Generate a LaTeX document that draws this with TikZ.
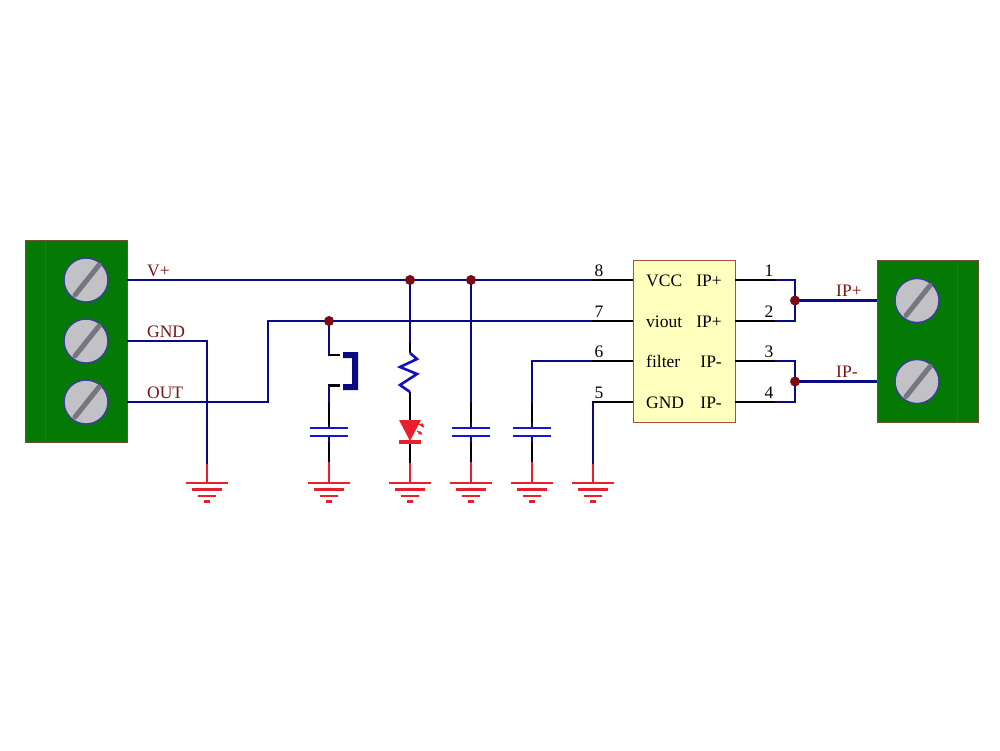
\documentclass[tikz,border=0pt]{standalone}
\usepackage{fontspec}
\setmainfont{Liberation Serif}
\definecolor{wirec}{HTML}{0A0A85}
\definecolor{capc}{HTML}{1414D2}
\definecolor{gndc}{HTML}{E8202E}
\definecolor{labc}{HTML}{7A1414}
\definecolor{dotc}{HTML}{7A0A14}
\definecolor{pcb}{HTML}{047A04}
\definecolor{pcbe}{HTML}{6E5030}
\definecolor{icf}{HTML}{FFFFBE}
\definecolor{ice}{HTML}{A8503C}
\definecolor{screwf}{HTML}{C2C2C6}
\definecolor{screws}{HTML}{76767E}
\tikzset{
  x=1pt,y=-1pt,
  wire/.style={draw=wirec,line width=2.6pt,line join=miter},
  lead/.style={draw=black,line width=2.6pt},
  gndw/.style={draw=gndc,line width=2.6pt},
  block/.style={draw=pcbe,fill=pcb,line width=1pt,inner sep=0pt,anchor=north west},
  chip/.style={draw=ice,fill=icf,line width=1.2pt,inner sep=0pt,anchor=north west,minimum width=102pt,minimum height=162pt},
  dot/.style={circle,fill=dotc,inner sep=0pt,minimum size=10pt},
  lab/.style={text=labc,font=\fontsize{17.5}{20}\selectfont,anchor=base west,inner sep=0pt},
  txt/.style={text=black,font=\fontsize{17.5}{20}\selectfont,anchor=base west,inner sep=0pt},
  txr/.style={text=black,font=\fontsize{17.5}{20}\selectfont,anchor=base east,inner sep=0pt},
  num/.style={text=black,font=\fontsize{17.5}{20}\selectfont,anchor=base,inner sep=0pt},
  pics/screwsym/.style={code={
    \draw[draw=wirec!80!white,fill=screwf,line width=1.4pt] (0,0) circle[radius=22];
    \draw[draw=screws,line width=5pt,line cap=round] (-11,15) -- (13,-15);
  }},
  pics/groundsym/.style={code={
    \draw[gndc,line width=2.6pt] (-21,0) -- (21,0);
    \draw[gndc,line width=2.6pt] (-15,6.5) -- (15,6.5);
    \draw[gndc,line width=2.6pt] (-9,13) -- (9,13);
    \draw[gndc,line width=2.6pt] (-3,18.5) -- (3,18.5);
  }},
  pics/capsym/.style={code={
    \draw[capc,line width=2.6pt] (-19,0) -- (19,0);
    \draw[capc,line width=2.6pt] (-19,8) -- (19,8);
  }},
}
\begin{document}
\begin{tikzpicture}
\useasboundingbox (0,0) rectangle (1000,750);
\fill[white] (0,0) rectangle (1000,750);
% coordinates
\coordinate (v0) at (127,280); \coordinate (g0) at (127,341); \coordinate (o0) at (127,402);
\coordinate (gc) at (207,341); \coordinate (gb) at (207,464); \coordinate (gg) at (207,483);
\coordinate (oa) at (268,402); \coordinate (ob) at (268,321);
\coordinate (p8) at (633,280); \coordinate (p7) at (633,321); \coordinate (p6) at (633,361); \coordinate (p5) at (633,402);
\coordinate (b8) at (592,280); \coordinate (b7) at (592,321); \coordinate (b6) at (592,361); \coordinate (b5) at (593,402);
\coordinate (c6) at (532,361);
\coordinate (p1) at (735,280); \coordinate (p2) at (735,321); \coordinate (p3) at (735,361); \coordinate (p4) at (735,402);
\coordinate (e1) at (775,280); \coordinate (e2) at (775,321); \coordinate (e3) at (775,361); \coordinate (e4) at (775,402);
\coordinate (t1) at (795,280); \coordinate (t2) at (795,321); \coordinate (t3) at (795,361); \coordinate (t4) at (795,402);
% blocks
\node[block,minimum width=102pt,minimum height=202pt] (left) at (25,240) {};
\draw[pcbe,line width=1pt] (45.5,240) -- (45.5,442);
\node[block,minimum width=101pt,minimum height=162pt] (right) at (877,260) {};
\draw[pcbe,line width=1pt] (957,260) -- (957,422);
\pic at (86,280) {screwsym};
\pic at (86,341) {screwsym};
\pic at (86,402) {screwsym};
\pic at (917,300.5) {screwsym};
\pic at (917,381.5) {screwsym};
% chip
\node[chip] (ic) at (633,260) {};
% junctions positions
\coordinate (jsw) at (329,321); \coordinate (jr) at (410,280); \coordinate (jc) at (471,280);
\coordinate (jp) at (795,300.5); \coordinate (jm) at (795,381.5);
\coordinate (rp) at (877,300.5); \coordinate (rm) at (877,381.5);
% long wires
\draw[wire] (v0) -- (b8);
\draw[wire] (g0) -- (gc) -- (gb);
\draw[gndw] (gb) -- (gg);
\draw[wire] (o0) -- (oa) -- (ob) -- (b7);
\draw[wire] (p6 -| b6) -- (c6) -- (532,403);
\draw[wire] (b5) -- (593,464);
\draw[gndw] (593,464) -- (593,483);
\draw[lead] (b8) -- (p8);
\draw[lead] (b7) -- (p7);
\draw[lead] (b6) -- (p6);
\draw[lead] (591.7,402) -- (p5);
% right side
\draw[lead] (p1) -- (e1); \draw[lead] (p2) -- (e2); \draw[lead] (p3) -- (e3); \draw[lead] (p4) -- (e4);
\draw[wire] (e1) -- (t1) -- (t2) -- (e2);
\draw[wire] (e3) -- (t3) -- (t4) -- (e4);
\draw[wire] (jp) -- (rp);
\draw[wire] (jm) -- (rm);
% switch
\draw[wire] (jsw) -- (329,355);
\draw[lead] (327.7,355) -- (340,355);
\draw[lead] (340,385.5) -- (327.7,385.5);
\draw[wire] (329,385.5) -- (329,403);
\draw[lead] (329,403) -- (329,425);
\draw[wire] (329,425) -- (329,428);
\draw[draw=none,fill=wirec] (343,352) -- (358,352) -- (358,390) -- (343,390) -- (343,384) -- (352,384) -- (352,358) -- (343,358) -- cycle;
% resistor and LED
\draw[wire] (jr) -- (410,343);
\draw[lead] (410,343) -- (410,353);
\draw[draw=capc!70!wirec,line width=2.6pt,line join=miter] (410,353) -- (417,359) -- (400,367) -- (417,374) -- (400,385) -- (410,392);
\draw[lead] (410,392) -- (410,421);
\fill[gndc] (399,420) -- (421,420) -- (410,441) -- cycle;
\fill[gndc] (399,440) rectangle (421,444);
\draw[gndc,line width=1.2pt] (419,424) -- (424,427);
\draw[gndc,line width=1.2pt] (417,431) -- (422,434);
\fill[gndc] (422,425) circle[radius=1.8];
\fill[gndc] (420,433) circle[radius=1.8];
\draw[lead] (410,444) -- (410,463);
\draw[gndw] (410,463) -- (410,483);
% capacitor wires
\draw[wire] (jc) -- (471,403);
\draw[lead] (471,403) -- (471,423);
\draw[wire] (471,423) -- (471,428);
\draw[wire] (471,436) -- (471,443);
\draw[lead] (471,443) -- (471,462);
\draw[gndw] (471,462) -- (471,483);
\draw[lead] (532,403) -- (532,423);
\draw[wire] (532,423) -- (532,428);
\draw[wire] (532,436) -- (532,443);
\draw[lead] (532,443) -- (532,462);
\draw[gndw] (532,462) -- (532,483);
\draw[wire] (329,436) -- (329,443);
\draw[lead] (329,443) -- (329,462);
\draw[gndw] (329,462) -- (329,483);
\pic at (329,428) {capsym};
\pic at (471,428) {capsym};
\pic at (532,428) {capsym};
\pic at (207,483) {groundsym};
\pic at (329,483) {groundsym};
\pic at (410,483) {groundsym};
\pic at (471,483) {groundsym};
\pic at (532,483) {groundsym};
\pic at (593,483) {groundsym};
% dots
\node[dot] (d1) at (jsw) {};
\node[dot] (d2) at (jr) {};
\node[dot] (d3) at (jc) {};
\node[dot] (d4) at (jp) {};
\node[dot] (d5) at (jm) {};
% labels
\node[lab] (lv) at (147,276) {V+};
\node[lab] (lg) at (147,337) {GND};
\node[lab] (lo) at (147,398) {OUT};
\node[lab] (lp) at (836,296) {IP+};
\node[lab] (lm) at (836,377) {IP-};
\node[num] (n8) at (599,276) {8};
\node[num] (n7) at (599,317) {7};
\node[num] (n6) at (599,357) {6};
\node[num] (n5) at (599,398) {5};
\node[num] (n1) at (769,276) {1};
\node[num] (n2) at (769,317) {2};
\node[num] (n3) at (769,357) {3};
\node[num] (n4) at (769,398) {4};
\node[txt] (t8) at (646,286) {VCC};
\node[txt] (t7) at (646,327) {viout};
\node[txt] (t6) at (646,367) {filter};
\node[txt] (t5) at (646,408) {GND};
\node[txr] (r1) at (722,286) {IP+};
\node[txr] (r2) at (722,327) {IP+};
\node[txr] (r3) at (722,367) {IP-};
\node[txr] (r4) at (722,408) {IP-};
\end{tikzpicture}
\end{document}
